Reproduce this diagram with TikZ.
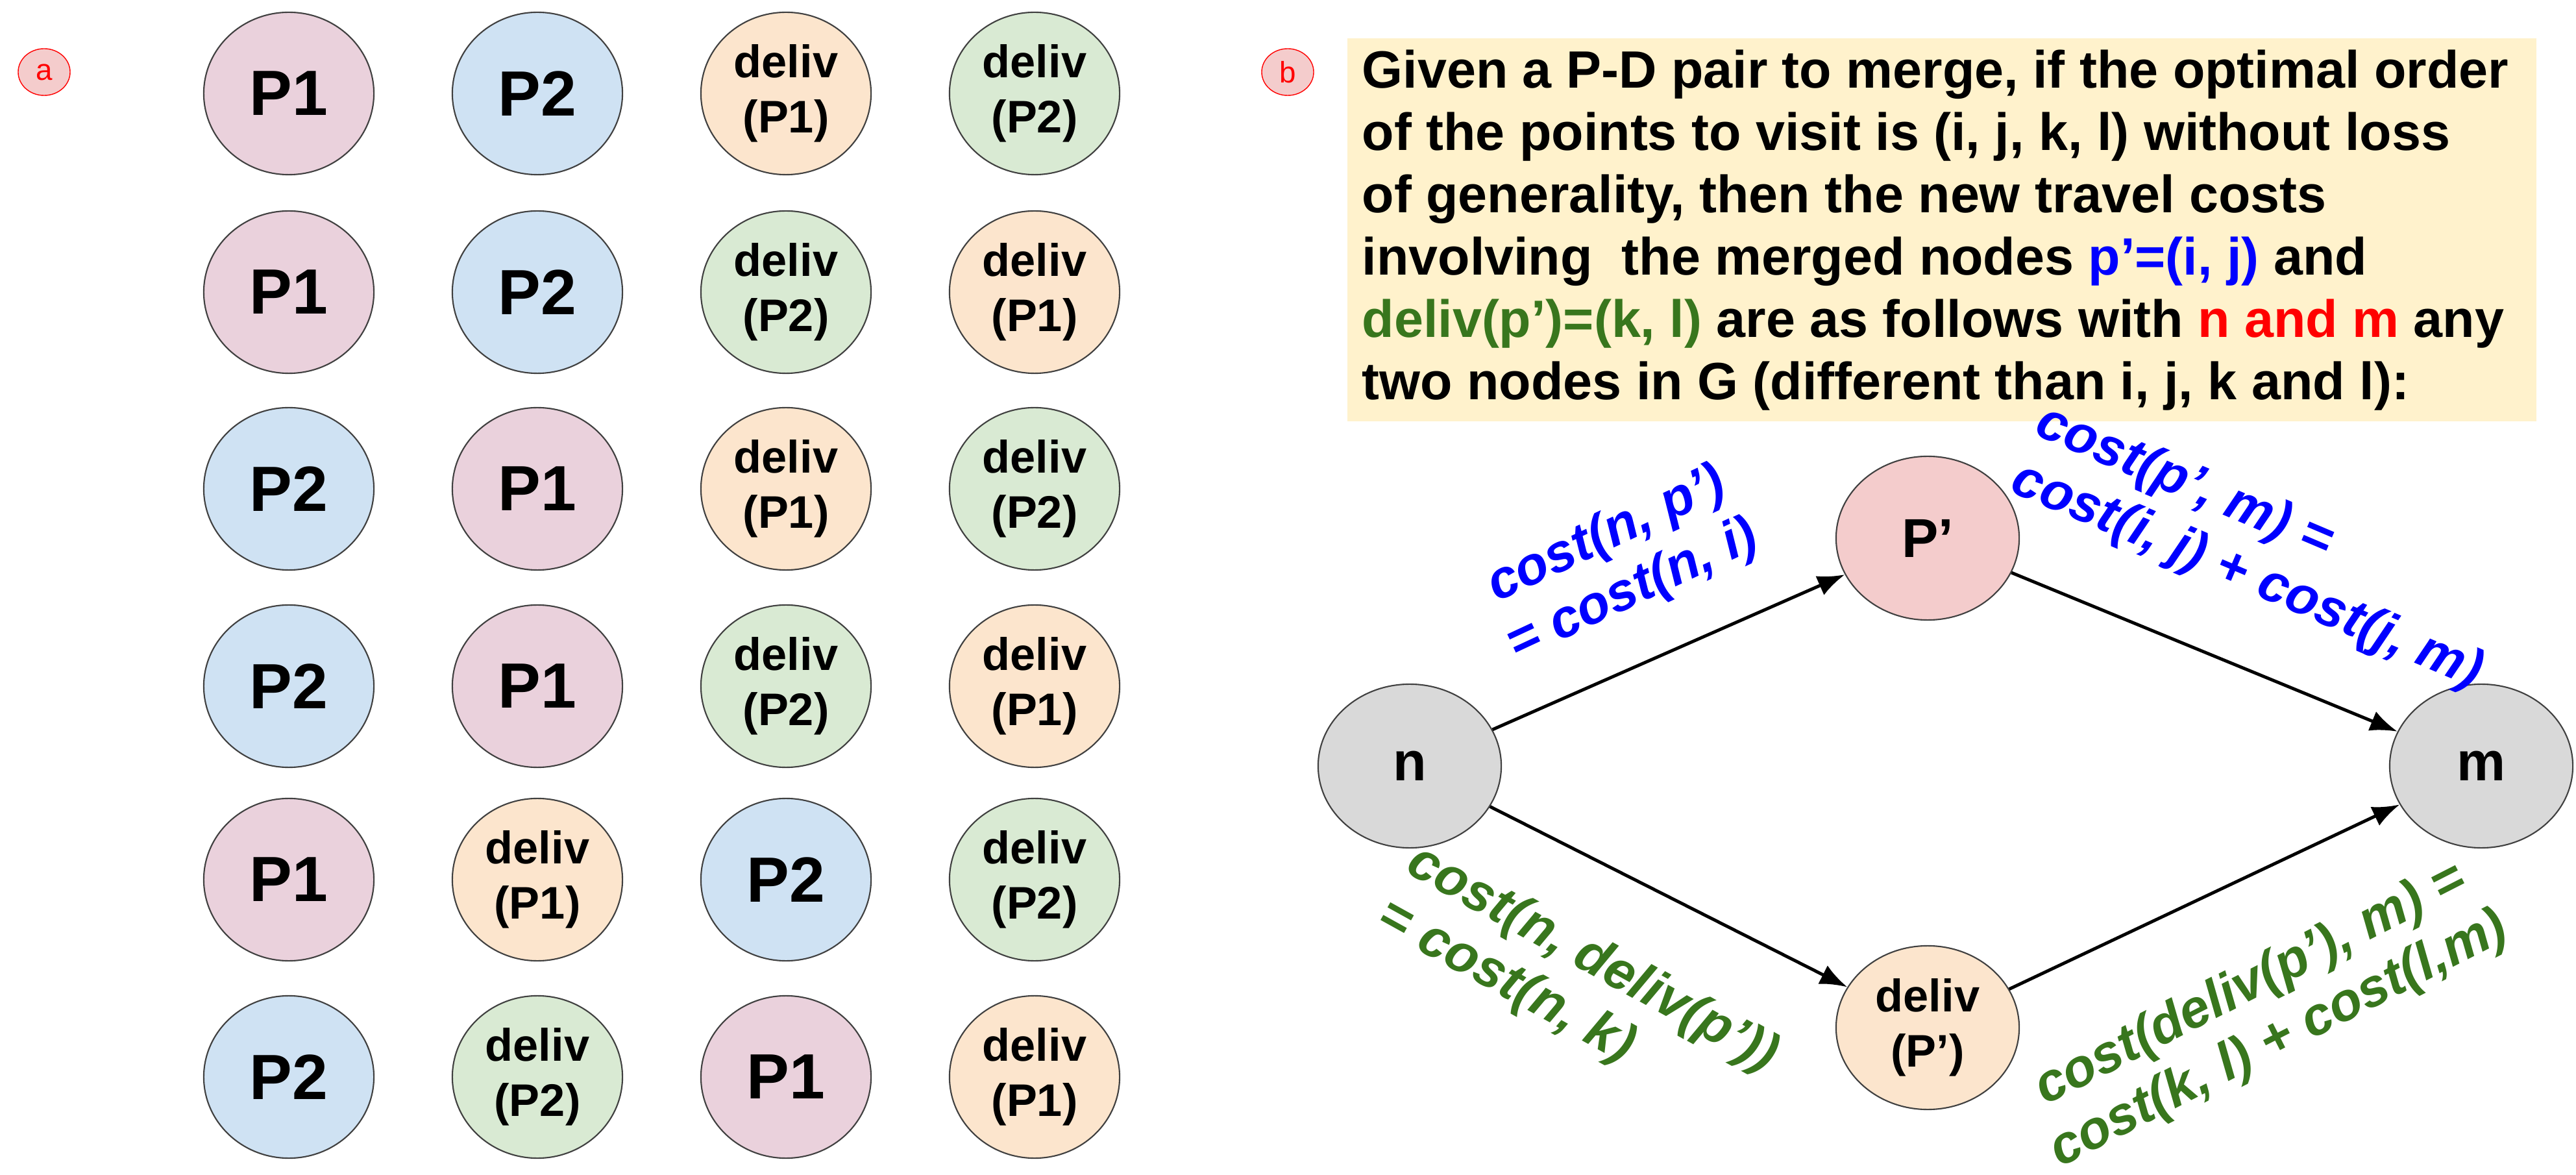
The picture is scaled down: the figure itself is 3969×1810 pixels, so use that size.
\documentclass[tikz,border=0pt]{standalone}
\usepackage{fontspec}
\setmainfont{Liberation Sans}
\usetikzlibrary{shapes.geometric,arrows.meta}
\definecolor{cpink}{HTML}{EAD1DC}
\definecolor{cblue}{HTML}{CFE2F3}
\definecolor{corange}{HTML}{FCE5CD}
\definecolor{cgreen}{HTML}{D9EAD3}
\definecolor{cred}{HTML}{F4CCCC}
\definecolor{cgray}{HTML}{D9D9D9}
\definecolor{cbox}{HTML}{FFF2CC}
\definecolor{tgreen}{HTML}{38761D}
\definecolor{tblue}{HTML}{0000FF}
\begin{document}
\begin{tikzpicture}[x=0.01cm,y=-0.01cm,
  nd/.style={ellipse,draw=black!75,line width=0.6pt,minimum width=2.62cm,minimum height=2.5cm,inner sep=0pt,align=center},
  big/.style={nd,font=\fontsize{28}{30}\selectfont\bfseries},
  sm/.style={nd,font=\fontsize{20}{24}\selectfont\bfseries},
  P1/.style={big,fill=cpink}, P2/.style={big,fill=cblue},
  D1/.style={sm,fill=corange}, D2/.style={sm,fill=cgreen},
  tag/.style={ellipse,draw=red,fill=cred,text=red,minimum width=0.8cm,minimum height=0.72cm,inner sep=0pt,font=\fontsize{13}{14}\selectfont},
  gn/.style={nd,minimum width=2.82cm,minimum height=2.52cm,font=\fontsize{24}{27}\selectfont\bfseries},
  lab/.style={font=\fontsize{23.5}{27}\selectfont\bfseries\itshape,inner sep=0pt},
  arr/.style={-{Latex[length=0.42cm,width=0.32cm]},line width=1.4pt}]
\useasboundingbox (0,0) rectangle (3969,1810);
\node[tag] (ta) at (68,111) {a};
% rows
\node[P1] (r1a) at (445,144) {P1};
\node[P2] (r1b) at (828,144) {P2};
\node[D1] (r1c) at (1211,144) {deliv\\(P1)};
\node[D2] (r1d) at (1594,144) {deliv\\(P2)};
\node[P1] (r2a) at (445,450) {P1};
\node[P2] (r2b) at (828,450) {P2};
\node[D2] (r2c) at (1211,450) {deliv\\(P2)};
\node[D1] (r2d) at (1594,450) {deliv\\(P1)};
\node[P2] (r3a) at (445,753) {P2};
\node[P1] (r3b) at (828,753) {P1};
\node[D1] (r3c) at (1211,753) {deliv\\(P1)};
\node[D2] (r3d) at (1594,753) {deliv\\(P2)};
\node[P2] (r4a) at (445,1057) {P2};
\node[P1] (r4b) at (828,1057) {P1};
\node[D2] (r4c) at (1211,1057) {deliv\\(P2)};
\node[D1] (r4d) at (1594,1057) {deliv\\(P1)};
\node[P1] (r5a) at (445,1355) {P1};
\node[D1] (r5b) at (828,1355) {deliv\\(P1)};
\node[P2] (r5c) at (1211,1355) {P2};
\node[D2] (r5d) at (1594,1355) {deliv\\(P2)};
\node[P2] (r6a) at (445,1659) {P2};
\node[D2] (r6b) at (828,1659) {deliv\\(P2)};
\node[P1] (r6c) at (1211,1659) {P1};
\node[D1] (r6d) at (1594,1659) {deliv\\(P1)};
% panel b
\node[tag] (tb) at (1984,111) {b};
\node[fill=cbox,minimum width=18.31cm,minimum height=5.9cm,anchor=north west,inner sep=0pt] (box) at (2075,58) {};
\node[anchor=north west,align=left,inner sep=0pt,font=\fontsize{23}{27.3}\selectfont\bfseries] (txt) at (2098,76)
{Given a P-D pair to merge, if the optimal order\\
of the points to visit is (i, j, k, l) without loss\\
of generality, then the new travel costs\\
involving\ \ the merged nodes \textcolor{tblue}{p’=(i, j)} and\\
\textcolor{tgreen}{deliv(p’)=(k, l)} are as follows with \textcolor{red}{n and m} any\\
two nodes in G (different than i, j, k and l):};
\node[gn,fill=cgray] (n) at (2172,1180) {n};
\node[gn,fill=cgray] (m) at (3823,1180) {m};
\node[gn,fill=cred] (p) at (2970,829) {P’};
\node[gn,fill=corange,font=\fontsize{20}{24}\selectfont\bfseries] (d) at (2970,1583) {deliv\\(P’)};
\draw[arr] (n) -- (p);
\draw[arr] (p) -- (m);
\draw[arr] (n) -- (d);
\draw[arr] (d) -- (m);
\node[lab,text=tblue,rotate=25,align=center] (l1) at (2496,868) {cost(n, p’)\\= cost(n, i)};
\node[lab,text=tblue,rotate=-23,align=left] (l2) at (3480,845) {cost(p’, m) =\\cost(i, j) + cost(j, m)};
\node[lab,text=tgreen,rotate=-29,align=left] (l3) at (2430,1520) {cost(n, deliv(p’))\\= cost(n, k)};
\node[lab,text=tgreen,rotate=27,align=center] (l4) at (3490,1560) {cost(deliv(p’), m) =\\cost(k, l) + cost(l,m)};
\end{tikzpicture}
\end{document}
